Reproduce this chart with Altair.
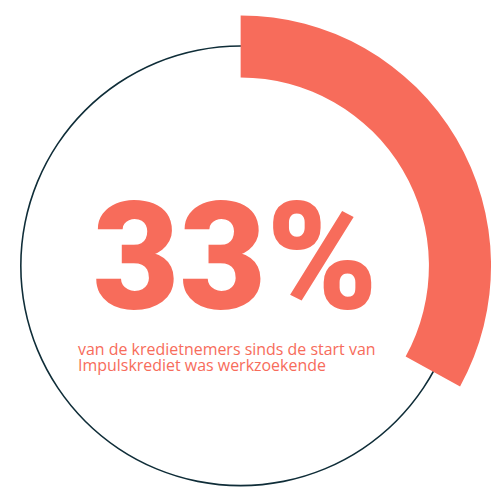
import altair as alt
import pandas as pd

# data
share_start = [0]
share_end = [33]
total = 100
headline = "33%"
subtitle = ["van de kredietnemers sinds de start van", "Impulskrediet was werkzoekende"]

CORAL = "#F76C5B"
DARK = "#0F2D38"

df = pd.DataFrame({"start": share_start, "end": share_end})
ring = pd.DataFrame({"start": [0], "end": [total]})

cx, cy = 236, 258
theta_scale = alt.Scale(domain=[0, total], range=[0, 6.283185307])

circle = alt.Chart(ring).mark_arc(
    radius=223.8, radius2=222.2, color=DARK
).encode(
    theta=alt.Theta("start:Q", scale=theta_scale),
    theta2="end:Q",
    x=alt.value(cx), y=alt.value(cy)
)

arc = alt.Chart(df).mark_arc(radius=254, radius2=191, color=CORAL).encode(
    theta=alt.Theta("start:Q", scale=theta_scale),
    theta2="end:Q",
    x=alt.value(cx), y=alt.value(cy)
)

big = alt.Chart(pd.DataFrame({"t": [headline]})).mark_text(
    font="Roboto", fontWeight=900, fontSize=152, color=CORAL, align="left", baseline="alphabetic"
).encode(text="t:N", x=alt.value(86), y=alt.value(302))

sub = alt.Chart(pd.DataFrame({"t": [subtitle]})).mark_text(
    font="Open Sans", fontSize=16.2, color=CORAL, align="left", baseline="alphabetic", lineHeight=16
).encode(text="t", x=alt.value(71), y=alt.value(349))

chart = alt.layer(circle, arc, big, sub).properties(
    width=492, height=483, autosize="none", padding=0
).configure_view(stroke=None)

chart.save("out.html", embed_options={"renderer": "svg", "actions": False})
